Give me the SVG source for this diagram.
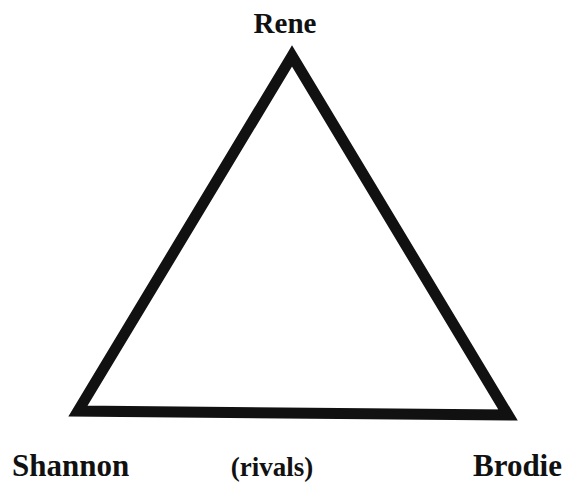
<svg xmlns="http://www.w3.org/2000/svg" width="564" height="484" viewBox="0 0 564 484">
<style>
.edge{fill:none;stroke:#111;stroke-width:11;stroke-linejoin:miter;stroke-miterlimit:10}
</style>
<rect width="564" height="484" fill="#fff"/>
<g id="connectors">
<path class="edge" d="M292,56 L78,411 L508,415 Z"/>
</g>
<g font-family="Liberation Serif, DejaVu Serif, serif" font-weight="bold" fill="#111">
<g id="rene"><text x="285" y="33" font-size="29" text-anchor="middle">Rene</text></g>
<g id="shannon"><text x="12" y="476" font-size="31">Shannon</text></g>
<g id="rivals"><text x="272" y="476" font-size="27" text-anchor="middle">(rivals)</text></g>
<g id="brodie"><text x="562" y="476" font-size="31" text-anchor="end">Brodie</text></g>
</g>
</svg>
